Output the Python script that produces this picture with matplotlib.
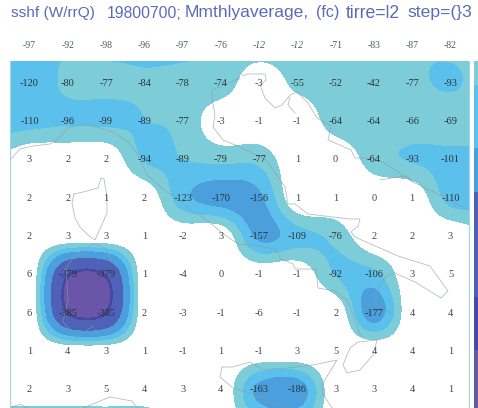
import numpy as np
import matplotlib
matplotlib.use("Agg")
import matplotlib.pyplot as plt

# Header row printed above the map
top_row = [-97, -92, -98, -96, -97, -76, -12, -12, -71, -83, -87, -82]
# Same row as it feeds the field, the italic -12 labels look like blurred -72
field_top = [-97, -92, -98, -96, -97, -76, -72, -72, -71, -83, -87, -82]

# Values printed on the map
values = [
    [-120, -80, -77, -84, -78, -74, -3, -55, -52, -42, -77, -93],
    [-110, -96, -99, -89, -77, -3, -1, -1, -64, -64, -66, -69],
    [3, 2, 2, -94, -89, -79, -77, 1, 0, -64, -93, -101],
    [2, 2, 1, 2, -123, -170, -156, 1, 1, 0, 1, -110],
    [2, 3, 3, 1, -2, 3, -157, -109, -76, 2, 2, 3],
    [6, -379, -379, 1, -4, 0, -1, -1, -92, -106, 3, 5],
    [6, -385, -385, 2, -3, -1, -6, -1, 2, -177, 4, 4],
    [1, 4, 3, 1, -1, 1, -1, 3, 5, 4, 4, 1],
    [2, 3, 5, 4, 3, 4, -163, -186, 3, 3, 4, 1],
]

# Off-map values, estimated from the colours at the edges of the picture
row_below = [-110, -110, -110, -110, -10, 0, -60, -70, 0, 0, 0, 0]
col_left = [-120, -130, -120, -45, 2, 2, 6, 6, 1, 2, -110]
col_right = [-80, -72, -70, -100, -105, -35, -5, 0, 0, 0, 0]

levels = [-2000, -392, -365, -230, -140, -88, -40, 2000]
colors = ["#6a55a8", "#4648a4", "#4f62b8", "#4a9fdc", "#5cc0ec", "#7ccdd8", "#ffffff"]

# Coastlines (pixels, converted to grid units below)
coasts = [
    [(11, 159), (20, 149), (33, 146), (50, 144), (57, 140), (68, 128), (77, 125), (93, 126),
     (113, 132), (128, 142), (137, 153), (147, 175), (167, 192), (180, 200), (193, 212),
     (200, 215), (225, 235), (238, 244), (258, 246), (275, 249), (281, 259), (293, 264),
     (295, 269), (316, 269), (318, 288), (335, 291), (348, 301), (361, 337)],
    [(74, 194), (72, 203), (75, 218), (80, 227), (88, 235), (95, 240), (107, 213), (107, 197),
     (104, 179), (101, 178), (98, 188), (83, 192), (74, 194)],
    [(63, 272), (73, 258), (93, 244), (105, 248), (112, 262)],
    [(66, 270), (68, 300), (63, 322), (77, 337), (93, 326)],
    [(240, 78), (212, 90), (212, 98), (215, 115), (213, 127), (223, 140), (240, 147),
     (266, 160), (285, 187), (288, 204), (295, 204), (308, 214), (350, 219), (360, 219),
     (358, 226), (351, 232), (355, 237), (398, 256), (430, 266), (448, 291), (441, 298),
     (415, 282), (395, 273), (385, 277), (376, 292), (376, 304), (395, 316)],
    [(242, 76), (248, 74), (265, 74), (266, 80), (260, 85), (265, 98), (275, 108), (282, 105),
     (290, 95), (297, 92), (308, 103), (317, 118), (331, 126), (328, 140), (351, 150),
     (355, 158), (370, 158), (383, 162), (413, 182), (440, 195), (468, 210)],
    [(290, 97), (288, 105), (295, 113)],
    [(380, 180), (397, 177), (407, 176), (413, 182)],
    [(377, 340), (358, 342), (350, 348), (343, 365), (347, 373), (360, 370), (373, 355), (377, 340)],
    [(222, 367), (233, 367), (250, 362), (263, 370), (287, 368), (313, 365), (337, 360),
     (323, 383), (322, 393), (332, 408)],
    [(222, 367), (220, 377), (233, 388), (250, 393), (273, 403), (290, 408)],
    [(10, 408), (20, 404), (28, 408)],
    [(83, 408), (110, 397), (132, 401), (137, 408)],
]

# Title pieces: text, left edge in pixels, font size
title_parts = [
    ("sshf (W/rrQ)", 11, 11.1),
    ("19800700;", 107, 11.3),
    ("Mmthlyaverage,", 185, 12.6),
    ("(fc)", 316, 11.6),
    ("tirre=l2", 346, 12.7),
    ("step=(}3", 407, 12.6),
]

# Colour strip on the right, band edges as fraction of the map height from the top
strip_edges = [0, 0.069, 0.251, 0.378, 0.680, 0.833, 1]
strip_colors = ["#7ccdd8", "#5cc0ec", "#4a9fdc", "#4f5fb4", "#4648a4", "#6a55a8"]


def catmull(z, n, axis):
    # cubic upsampling along one axis, it gives the round contour shapes
    z = np.moveaxis(z, axis, 0)
    p = np.concatenate([z[:1], z, z[-1:]])
    t = np.arange(0, z.shape[0] - 1 + 1e-9, 1 / n)
    i = np.minimum(t.astype(int), z.shape[0] - 2)
    f = (t - i).reshape(-1, 1)
    a, b, c, d = p[i], p[i + 1], p[i + 2], p[i + 3]
    out = 0.5 * (2 * b + (c - a) * f + (2 * a - 5 * b + 4 * c - d) * f ** 2
                 + (3 * b - a - 3 * c + d) * f ** 3)
    return np.moveaxis(out, 0, axis), t


grid = np.array([field_top] + values + [row_below], dtype=float)
grid = np.column_stack([col_left, grid, col_right])
fine, ys = catmull(grid, 10, 0)
fine, xs = catmull(fine, 10, 1)
xs = xs - 1

fig = plt.figure(figsize=(4.78, 4.08), dpi=100)
ax = fig.add_axes([10 / 478, 0, 459 / 478, 347 / 408])
cs = ax.contourf(xs, ys, fine, levels=levels, colors=colors)
# hide the light seams between neighbouring bands
cs.set_edgecolor("face")
cs.set_linewidth(0.3)

dx = 38.27
dy = 38.33
for line in coasts:
    px = np.array(line, dtype=float)
    ax.plot((px[:, 0] - 29.5) / dx, (px[:, 1] - 45) / dy, color="#8f9ca3", lw=0.55, alpha=0.7)

ax.set_xlim((10 - 29.5) / dx, (469 - 29.5) / dx)
ax.set_ylim((408 - 45) / dy, (61 - 45) / dy)
ax.set_xticks([])
ax.set_yticks([])
for name, sp in ax.spines.items():
    sp.set_visible(name in ("left", "right"))
    sp.set_color("#9fd6e0")
    sp.set_linewidth(0.8)

serif = "Liberation Serif"
for c, v in enumerate(top_row):
    italic = v == -12
    ax.text(c, 0, str(v), ha="center", va="center", fontsize=7, family=serif,
            style="italic" if italic else "normal", color="#4c5a60", clip_on=False)
for r, row in enumerate(values):
    for c, v in enumerate(row):
        ax.text(c, r + 1, str(v), ha="center", va="center", fontsize=7.5, family=serif,
                color="#2b3236" if v < -10 else "#444444")

for text, left, size in title_parts:
    fig.text(left / 478, 1 - 13 / 408, text, ha="left", va="center", fontsize=size,
             family="Liberation Sans", color="#5b6bb8")

strip = fig.add_axes([474 / 478, 0, 4 / 478, 347 / 408])
strip.bar([0] * len(strip_colors), np.diff(strip_edges), bottom=strip_edges[:-1],
          width=1, color=strip_colors)
strip.set_xlim(-0.5, 0.5)
strip.set_ylim(1, 0)
strip.axis("off")

fig.savefig("out.png", dpi=100)
